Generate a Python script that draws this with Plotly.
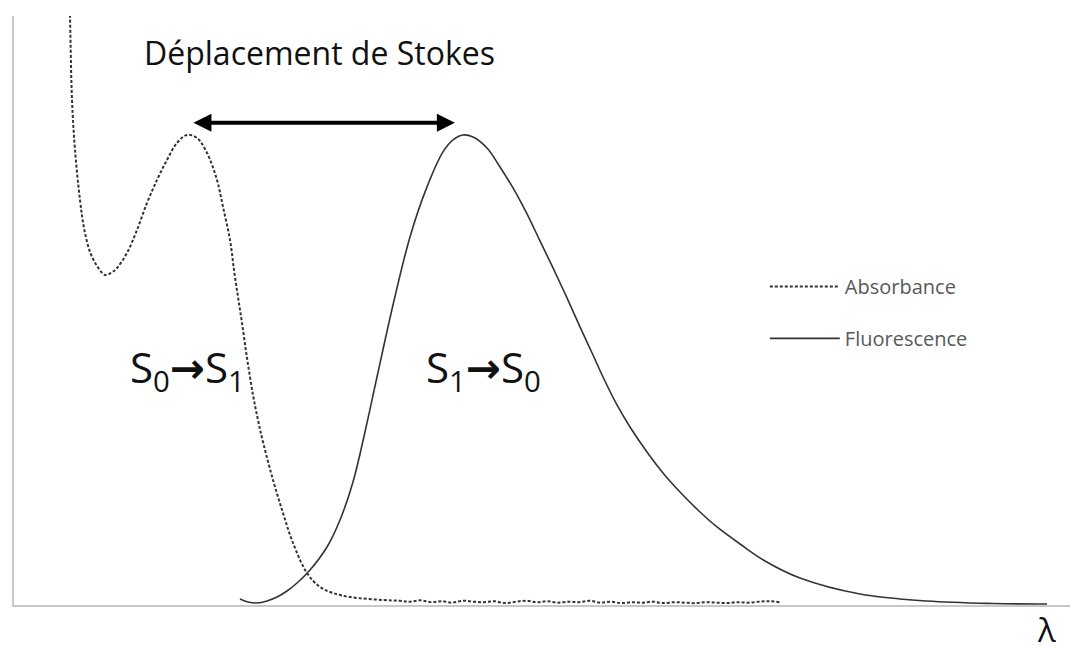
import plotly.graph_objects as go

# Absorbance spectrum (wavelength nm, intensity a.u.)
abs_wl = [271.02, 271.21, 271.97, 273.11, 275.00, 276.52, 278.79, 281.44, 284.47, 286.74,
          289.02, 292.80, 296.59, 300.38, 304.17, 307.95, 311.74, 315.53, 319.32, 323.11,
          326.89, 329.17, 331.82, 333.33, 334.85, 336.36, 338.26, 340.53, 342.42, 344.32,
          348.11, 351.89, 355.68, 360.98, 365.91, 370.83, 377.27, 389.77,
          396, 400, 404, 408, 412, 416, 420, 424, 428, 432, 436, 440, 444, 448, 452, 456,
          460, 464, 468, 472, 476, 480, 484, 488, 492, 496, 500, 504, 508, 512, 516, 520,
          524, 528, 532, 536, 540]
abs_int = [1.2766, 1.2511, 1.0745, 0.9681, 0.8617, 0.8021, 0.7511, 0.7213, 0.7021, 0.7064,
           0.7170, 0.7489, 0.7979, 0.8553, 0.9043, 0.9468, 0.9830, 1.0000, 0.9936, 0.9617,
           0.9043, 0.8468, 0.7766, 0.7128, 0.6553, 0.6000, 0.5255, 0.4468, 0.3936, 0.3468,
           0.2660, 0.1957, 0.1319, 0.0681, 0.0383, 0.0255, 0.0170, 0.0106,
           0.009, 0.007, 0.010, 0.006, 0.008, 0.005, 0.009, 0.007, 0.006, 0.008, 0.004,
           0.007, 0.009, 0.006, 0.008, 0.005, 0.007, 0.006, 0.009, 0.005, 0.007, 0.004,
           0.006, 0.005, 0.007, 0.004, 0.006, 0.005, 0.004, 0.006, 0.005, 0.004, 0.006,
           0.005, 0.007, 0.008, 0.006]

# Fluorescence spectrum
flu_wl = [335.61, 338.64, 342.05, 345.83, 349.62, 353.41, 357.20, 362.12, 368.56, 373.48,
          378.41, 382.95, 387.50, 393.56, 400.00, 406.44, 412.50, 416.29, 420.08, 423.86,
          429.17, 434.09, 439.02, 444.32, 449.24, 454.17, 459.47, 464.39, 469.32, 473.11,
          478.41, 483.33, 489.77, 495.83, 502.27, 509.85, 516.29, 525.00, 534.47, 547.73,
          570.45, 595.83, 620.83, 641.29]
flu_int = [0.0128, 0.0064, 0.0043, 0.0085, 0.0170, 0.0298, 0.0468, 0.0745, 0.1234, 0.1809,
           0.2617, 0.3681, 0.4851, 0.6383, 0.7830, 0.8894, 0.9638, 0.9894, 1.0000, 0.9957,
           0.9723, 0.9319, 0.8872, 0.8319, 0.7745, 0.7170, 0.6532, 0.5915, 0.5319, 0.4851,
           0.4255, 0.3787, 0.3255, 0.2809, 0.2404, 0.1979, 0.1660, 0.1298, 0.0936, 0.0574,
           0.0234, 0.0085, 0.0032, 0.0021]

series_names = ["Absorbance", "Fluorescence"]
title_text = "Déplacement de Stokes"
ARROW = "<span style=\"font-family:'DejaVu Sans';font-weight:bold\">→</span>"
abs_label = "S<sub>0</sub>" + ARROW + "S<sub>1</sub>"
flu_label = "S<sub>1</sub>" + ARROW + "S<sub>0</sub>"
axis_label = "λ"

FONT = "Open Sans"
TXT = "#111111"

fig = go.Figure()
fig.add_trace(go.Scatter(x=abs_wl, y=abs_int, mode="lines", name=series_names[0],
                         line=dict(color="#333333", width=2, dash="3px,2px", shape="spline", smoothing=1.0),
                         legendgroup="a"))
fig.add_trace(go.Scatter(x=flu_wl, y=flu_int, mode="lines", name=series_names[1],
                         line=dict(color="#333333", width=1.6, shape="spline", smoothing=1.0),
                         legendgroup="f"))

ann = []
ann.append(dict(x=365.9, y=1.175, xref="x", yref="y", text=title_text, showarrow=False,
                font=dict(family=FONT, size=32, color=TXT), xanchor="center", yanchor="middle"))
# double-headed arrow for the Stokes shift (between the two maxima)
ann.append(dict(x=417.0, y=1.026, ax=317.4, ay=1.026, xref="x", yref="y", axref="x", ayref="y",
                text="", showarrow=True, arrowhead=2, startarrowhead=2, arrowside="end+start",
                arrowsize=0.9, startarrowsize=0.9, arrowwidth=4, arrowcolor="#000000",
                standoff=0, startstandoff=0))
ann.append(dict(x=315.7, y=0.50, xref="x", yref="y", text=abs_label, showarrow=False,
                font=dict(family=FONT, size=42, color=TXT), xanchor="center", yanchor="middle"))
ann.append(dict(x=427.65, y=0.50, xref="x", yref="y", text=flu_label, showarrow=False,
                font=dict(family=FONT, size=42, color=TXT), xanchor="center", yanchor="middle"))
ann.append(dict(x=0.978, y=-0.041, xref="paper", yref="paper", text=axis_label, showarrow=False,
                font=dict(family=FONT, size=33, color=TXT), xanchor="center", yanchor="middle"))

fig.update_layout(
    width=1070, height=648, autosize=False,
    margin=dict(l=14, r=0, t=16, b=43),
    paper_bgcolor="white", plot_bgcolor="white",
    showlegend=True,
    legend=dict(x=0.711, y=0.574, xanchor="left", yanchor="top",
                font=dict(family=FONT, size=20, color="#595959"),
                itemwidth=70, tracegroupgap=23, bgcolor="rgba(0,0,0,0)"),
    annotations=ann,
)
fig.update_xaxes(range=[250, 650], showline=True, linecolor="#c8c8c8", linewidth=2,
                 showgrid=False, zeroline=False, showticklabels=False, ticks="")
fig.update_yaxes(range=[0, 1.253], showline=True, linecolor="#c8c8c8", linewidth=2,
                 showgrid=False, zeroline=False, showticklabels=False, ticks="")

fig.write_html("out.html", config={"displayModeBar": False},
               post_script="document.body.style.margin='0px';document.body.style.overflow='hidden';")
